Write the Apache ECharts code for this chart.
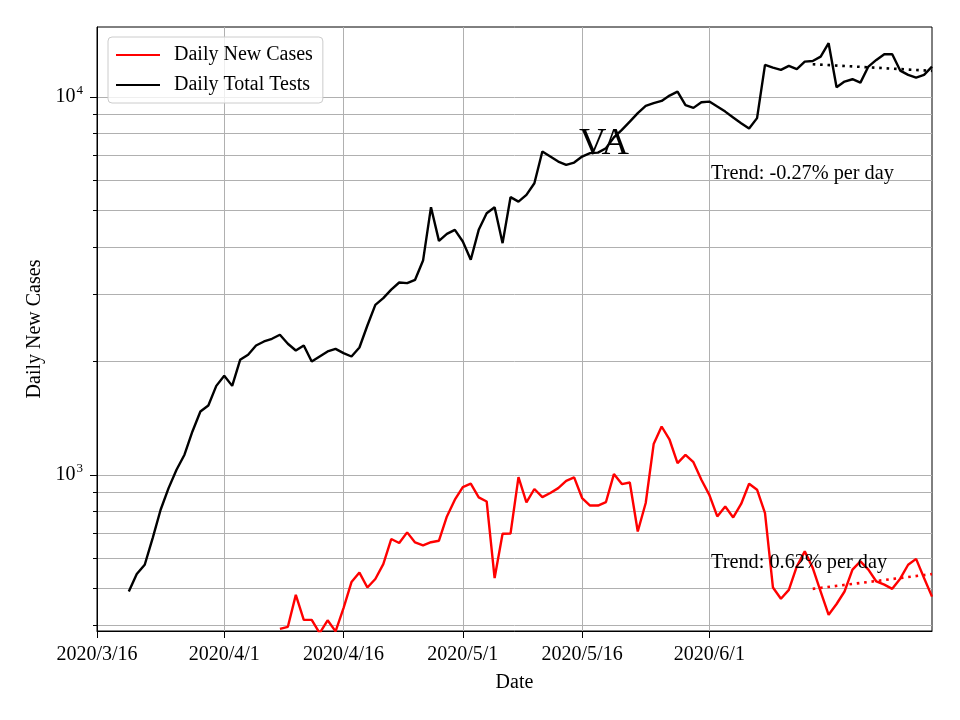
<!DOCTYPE html>
<html><head><meta charset="utf-8">
<script src="https://cdn.jsdelivr.net/npm/echarts@6/dist/echarts.min.js"></script>
<style>html,body{margin:0;padding:0;background:#fff}#chart{width:960px;height:720px}</style>
</head><body><div id="chart"></div>
<script>
// ---------- data ----------
const originDate = '2020-03-16';
const endDate = '2020-06-29';

const testsStartDate = '2020-03-20';
const dailyTotalTests = [
  491, 546, 578, 680, 808, 922, 1031, 1130, 1302, 1471,
  1525, 1719, 1828, 1719, 2015, 2078, 2199, 2253, 2290, 2347,
  2222, 2132, 2199, 1994, 2056, 2120, 2154, 2099, 2056, 2172,
  2483, 2816, 2935, 3090, 3227, 3214, 3281, 3689, 5107, 4159,
  4341, 4448, 4142, 3706, 4448, 4923, 5107, 4102, 5428, 5284,
  5505, 5910, 7167, 6953, 6744, 6610, 6703, 6953, 7098, 7120,
  7316, 7814, 8178, 8603, 9055, 9467, 9623, 9759, 10079, 10328,
  9507, 9352, 9683, 9719, 9426, 9144, 8816, 8519, 8244, 8786,
  12150, 11950, 11788, 12078, 11839, 12397, 12449, 12780, 13874, 10609,
  10977, 11137, 10910, 12029, 12526, 12972, 12972, 11739, 11435, 11249,
  11435, 12029
];

const casesStartDate = '2020-04-08';
const dailyNewCases = [
  391, 396, 481, 413, 413, 381, 412, 385, 444, 520,
  551, 503, 530, 580, 676, 660, 704, 662, 650, 663,
  669, 776, 859, 928, 947, 871, 850, 533, 698, 699,
  986, 845, 917, 873, 895, 922, 964, 984, 868, 829,
  829, 847, 1004, 945, 954, 708, 842, 1206, 1342, 1238,
  1074, 1129, 1080, 970, 885, 776, 824, 771, 837, 947,
  913, 792, 503, 470, 496, 572, 627, 567, 491, 426,
  455, 491, 561, 590, 561, 522, 512, 499, 531, 578,
  599, 533, 476
];

const testsTrend = [['2020-06-14', 12205], ['2020-06-29', 11718]];
const casesTrend = [['2020-06-14', 499], ['2020-06-29', 546]];

const xTickDates = ['2020-03-16', '2020-04-01', '2020-04-16', '2020-05-01', '2020-05-16', '2020-06-01'];
const xTickLabels = ['2020/3/16', '2020/4/1', '2020/4/16', '2020/5/1', '2020/5/16', '2020/6/1'];
const yMajorTicks = [1000, 10000];
const yAllTicks = [400, 500, 600, 700, 800, 900, 1000, 2000, 3000, 4000, 5000, 6000, 7000, 8000, 9000, 10000];
const yMin = 386, yMax = 15310;

const seriesNames = ['Daily New Cases', 'Daily Total Tests'];
const testsTrendLabel = 'Trend: -0.27% per day';
const casesTrendLabel = 'Trend: 0.62% per day';
const stateLabel = 'VA';
const xName = 'Date';
const yName = 'Daily New Cases';

// ---------- helpers ----------
const DAY = 86400000;
function dayIndex(d) { return Math.round((Date.parse(d) - Date.parse(originDate)) / DAY); }
function toSeries(start, values) { const s = dayIndex(start); return values.map((v, i) => [s + i, v]); }
const xTickDays = xTickDates.map(dayIndex);
const FONT = "'Liberation Serif', 'Times New Roman', serif";

const chart = echarts.init(document.getElementById('chart'), null, { renderer: 'canvas' });
chart.setOption({
  animation: false,
  backgroundColor: '#fff',
  grid: { left: 97, right: 28, top: 27, bottom: 89, show: true, borderColor: '#000', borderWidth: 1, backgroundColor: 'transparent' },
  legend: {
    data: seriesNames,
    orient: 'vertical', left: 108, top: 37,
    itemWidth: 44, itemHeight: 14, itemGap: 10,
    padding: [8, 10, 8, 7],
    backgroundColor: 'rgba(255,255,255,0.8)',
    borderColor: '#cccccc', borderWidth: 1, borderRadius: 4,
    itemStyle: { opacity: 0 },
    textStyle: { fontFamily: FONT, fontSize: 20, color: '#000', padding: [0, 0, 0, 9], lineHeight: 20 }
  },
  xAxis: {
    type: 'value', min: 0, max: dayIndex(endDate),
    name: xName, nameLocation: 'middle', nameGap: 42,
    nameTextStyle: { fontFamily: FONT, fontSize: 20, color: '#000' },
    axisLine: { show: true, lineStyle: { color: '#000', width: 1 } },
    axisTick: { show: true, inside: false, length: 7, customValues: xTickDays, lineStyle: { color: '#000', width: 1 } },
    axisLabel: {
      show: true, customValues: xTickDays, margin: 14,
      fontFamily: FONT, fontSize: 20, color: '#000',
      formatter: v => xTickLabels[xTickDays.indexOf(v)] || ''
    },
    splitLine: { show: true, lineStyle: { color: '#b0b0b0', width: 1 } }
  },
  yAxis: [{
    type: 'log', logBase: 10, min: yMin, max: yMax,
    name: yName, nameLocation: 'middle', nameGap: 45,
    nameTextStyle: { fontFamily: FONT, fontSize: 20, color: '#000' },
    axisLine: { show: true, lineStyle: { color: '#000', width: 1 } },
    axisTick: { show: true, inside: false, length: 4, customValues: yAllTicks, lineStyle: { color: '#000', width: 1 } },
    axisLabel: {
      show: true, customValues: yMajorTicks, margin: 14,
      formatter: v => '{b|10}{s|' + Math.round(Math.log10(v)) + '}',
      rich: {
        b: { fontFamily: FONT, fontSize: 20, color: '#000', lineHeight: 26 },
        s: { fontFamily: FONT, fontSize: 13, color: '#000', lineHeight: 13, verticalAlign: 'top', padding: [0, 0, 0, 1] }
      }
    },
    splitLine: { show: true, lineStyle: { color: '#b0b0b0', width: 1 } },
    minorTick: { show: false }, minorSplitLine: { show: false }
  }, {
    type: 'log', logBase: 10, min: yMin, max: yMax, position: 'left',
    axisLine: { show: false },
    axisTick: { show: true, inside: false, length: 7, customValues: yMajorTicks, lineStyle: { color: '#000', width: 1 } },
    axisLabel: { show: false },
    splitLine: { show: false }
  }],
  series: [
    {
      name: seriesNames[0], type: 'line', symbol: 'none', clip: true,
      data: toSeries(casesStartDate, dailyNewCases),
      lineStyle: { color: '#ff0000', width: 2.4 }, itemStyle: { color: '#ff0000' }, z: 3
    },
    {
      name: seriesNames[1], type: 'line', symbol: 'none', clip: true,
      data: toSeries(testsStartDate, dailyTotalTests),
      lineStyle: { color: '#000000', width: 2.4 }, itemStyle: { color: '#000000' }, z: 3
    },
    {
      name: 'casesTrend', type: 'line', symbol: 'none', clip: true,
      data: casesTrend.map(p => [dayIndex(p[0]), p[1]]),
      lineStyle: { color: '#ff0000', width: 2.6, type: [2.6, 4.8] }, z: 4
    },
    {
      name: 'testsTrend', type: 'line', symbol: 'none', clip: true,
      data: testsTrend.map(p => [dayIndex(p[0]), p[1]]),
      lineStyle: { color: '#000000', width: 2.6, type: [2.6, 4.8] }, z: 4
    }
  ],
  graphic: [
    { type: 'text', x: 604, y: 144, z: 10, style: { text: stateLabel, fontFamily: FONT, fontSize: 38, fill: '#000', align: 'center', verticalAlign: 'middle' } },
    { type: 'text', x: 711, y: 174, z: 10, style: { text: testsTrendLabel, fontFamily: FONT, fontSize: 20.3, fill: '#000', align: 'left', verticalAlign: 'middle' } },
    { type: 'text', x: 711, y: 563, z: 10, style: { text: casesTrendLabel, fontFamily: FONT, fontSize: 20.3, fill: '#000', align: 'left', verticalAlign: 'middle' } }
  ]
});
</script>
</body></html>
